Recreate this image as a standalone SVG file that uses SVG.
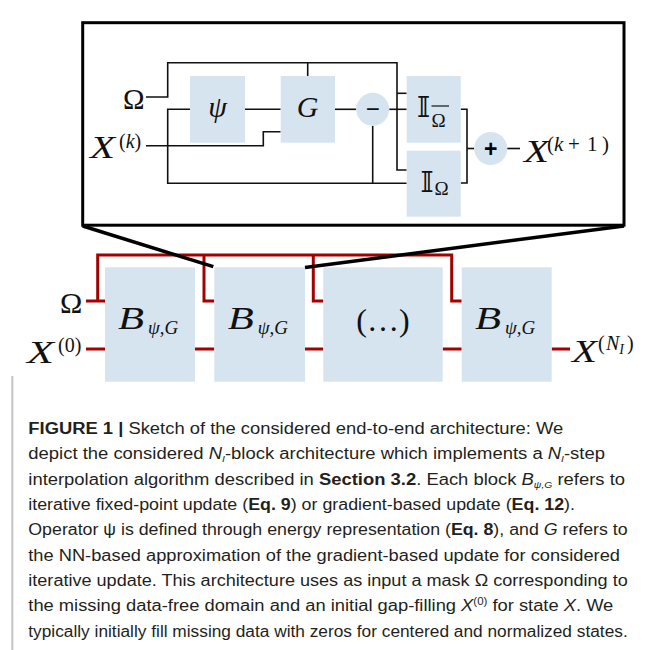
<svg xmlns="http://www.w3.org/2000/svg" width="664" height="650" viewBox="0 0 664 650">
<style>
.blk{fill:#d6e4f0;}
.wire{fill:none;stroke:#111;stroke-width:1.6;}
.red{fill:none;stroke:#a30000;stroke-width:3;}
.m{font-family:"Liberation Serif","Times New Roman",serif;fill:#111;}
.i{font-style:italic;}
.ds{font-family:"DejaVu Serif","DejaVu Sans",serif;fill:#111;}
.cap{font-family:"Liberation Sans",Arial,sans-serif;font-size:16px;fill:#231f20;}
.b{font-weight:bold;}
</style>
<rect width="664" height="650" fill="#fff"/>

<g id="inset-frame">
<rect x="82.7" y="22.7" width="541.3" height="202.5" fill="none" stroke="#000" stroke-width="3"/>
</g>

<g id="inset-connectors" class="wire">
<path d="M146,97 H167.7 V62.7 H397 V170 H406.7"/>
<path d="M397,93.3 H406.7"/>
<path d="M307.7,62.7 V76"/>
<path d="M146,145.7 H263.3 V131.7 H280.7"/>
<path d="M190,109.3 H167.7 V183.3 H406.7"/>
<path d="M245,109.3 H280.7"/>
<path d="M335,109.3 H356.2"/>
<path d="M389.2,109.3 H406.7"/>
<path d="M372.7,125.8 V183.3"/>
<path d="M460.7,109.3 H467 V183 H460.7"/>
<path d="M467,148.5 H474.2"/>
<path d="M507.2,148.5 H520"/>
</g>

<g id="in-omega"><text class="m" x="123" y="109" font-size="29">Ω</text></g>
<g id="in-xk"><text class="m i" x="90" y="158" font-size="31" textLength="25" lengthAdjust="spacingAndGlyphs">X</text><text class="m" y="148" font-size="20"><tspan x="119">(</tspan><tspan class="i">k</tspan><tspan>)</tspan></text></g>
<g id="psi"><rect class="blk" x="190" y="76" width="55" height="66.7"/><text class="m i" x="217.5" y="117" font-size="30" text-anchor="middle">ψ</text></g>
<g id="G"><rect class="blk" x="280.7" y="76" width="54.3" height="66.7"/><text class="m i" x="307.7" y="117.3" font-size="30" text-anchor="middle">G</text></g>
<g id="minus"><circle class="blk" cx="372.7" cy="109.3" r="16.5"/><text x="372.7" y="117.2" font-family="Liberation Sans,Arial,sans-serif" font-size="24" text-anchor="middle" fill="#111">−</text></g>
<g id="I-omega-bar"><rect class="blk" x="406.7" y="76" width="54" height="66.7"/><text class="ds" x="417" y="116.7" font-size="28">𝕀</text><text class="m" x="431.5" y="126.7" font-size="19">Ω</text><line x1="431.5" y1="106" x2="449" y2="106" stroke="#111" stroke-width="1.2"/></g>
<g id="I-omega"><rect class="blk" x="406.7" y="150.7" width="54" height="66"/><text class="ds" x="420.5" y="191.7" font-size="28">𝕀</text><text class="m" x="434.5" y="195" font-size="19">Ω</text></g>
<g id="plus"><circle class="blk" cx="490.7" cy="148.5" r="16.5"/><text x="490.7" y="156.5" font-family="Liberation Sans,Arial,sans-serif" font-weight="bold" font-size="23" text-anchor="middle" fill="#000">+</text></g>
<g id="in-xk1"><text class="m i" x="524" y="161.7" font-size="31" textLength="25" lengthAdjust="spacingAndGlyphs">X</text><text class="m" y="150.5" font-size="21"><tspan x="547">(</tspan><tspan x="554" class="i">k</tspan><tspan x="568">+</tspan><tspan x="587">1</tspan><tspan x="602">)</tspan></text></g>

<g id="chain-connectors">
<path class="red" d="M97.7,301 V255 H451.7 V301 H461.7"/>
<path class="red" d="M204,255 V301 H214.3"/>
<path class="red" d="M313.3,255 V301 H323.3"/>
<path class="red" d="M86,301 H105"/>
<path class="red" d="M86,349 H105 M195,349 H214.3 M305,349 H323.3 M442.7,349 H461.7 M551.7,349 H570"/>
</g>

<g id="block1"><rect class="blk" x="105" y="267.3" width="90" height="114.4"/><text class="m i" x="118" y="329.3" font-size="31" textLength="26" lengthAdjust="spacingAndGlyphs">B</text><text class="m" y="333.5" font-size="19"><tspan x="148" class="i">ψ</tspan><tspan>,</tspan><tspan class="i">G</tspan></text></g>
<g id="block2"><rect class="blk" x="214.3" y="267.3" width="90.7" height="114.4"/><text class="m i" x="227.8" y="329.3" font-size="31" textLength="26" lengthAdjust="spacingAndGlyphs">B</text><text class="m" y="333.5" font-size="19"><tspan x="257.8" class="i">ψ</tspan><tspan>,</tspan><tspan class="i">G</tspan></text></g>
<g id="block3"><rect class="blk" x="323.3" y="267.3" width="119.4" height="114.4"/><text class="m" x="383" y="331" font-size="32" text-anchor="middle">(…)</text></g>
<g id="block4"><rect class="blk" x="461.7" y="267.3" width="90" height="114.4"/><text class="m i" x="475" y="329.3" font-size="31" textLength="26" lengthAdjust="spacingAndGlyphs">B</text><text class="m" y="333.5" font-size="19"><tspan x="505" class="i">ψ</tspan><tspan>,</tspan><tspan class="i">G</tspan></text></g>

<g id="out-omega"><text class="m" x="60" y="312.7" font-size="30">Ω</text></g>
<g id="out-x0"><text class="m i" x="27" y="363.3" font-size="32" textLength="27" lengthAdjust="spacingAndGlyphs">X</text><text class="m" x="58" y="351.5" font-size="20">(0)</text></g>
<g id="out-xn"><text class="m i" x="572" y="361.5" font-size="32" textLength="25" lengthAdjust="spacingAndGlyphs">X</text><text class="m" y="349.5" font-size="20"><tspan x="598">(</tspan><tspan x="606" class="i">N</tspan><tspan class="i" font-size="14" dy="4">I</tspan><tspan dy="-4" dx="3">)</tspan></text></g>

<g id="zoom-lines" stroke="#000" stroke-width="3.5" fill="none">
<path d="M82.7,226 L213.3,266.7"/>
<path d="M624,226 L305,267.5"/>
</g>

<g id="caption">
<line x1="12.3" y1="376" x2="12.3" y2="650" stroke="#c4c4c4" stroke-width="2"/>
<text class="cap" x="28.3" y="434" textLength="535" lengthAdjust="spacingAndGlyphs"><tspan class="b">FIGURE 1 |</tspan> Sketch of the considered end-to-end architecture: We</text>
<text class="cap" x="28.3" y="459.3" textLength="576.7" lengthAdjust="spacingAndGlyphs">depict the considered <tspan font-style="italic">N</tspan><tspan font-size="9" dy="3" font-style="italic">I</tspan><tspan dy="-3">-block architecture which implements a </tspan><tspan font-style="italic">N</tspan><tspan font-size="9" dy="3" font-style="italic">I</tspan><tspan dy="-3">-step</tspan></text>
<text class="cap" x="28.3" y="484.7" textLength="596.7" lengthAdjust="spacingAndGlyphs">interpolation algorithm described in <tspan class="b">Section 3.2</tspan>. Each block <tspan font-style="italic">B</tspan><tspan font-size="9" dy="3" font-style="italic">ψ,G</tspan><tspan dy="-3"> refers to</tspan></text>
<text class="cap" x="28.3" y="510" textLength="546.7" lengthAdjust="spacingAndGlyphs">iterative fixed-point update (<tspan class="b">Eq. 9</tspan>) or gradient-based update (<tspan class="b">Eq. 12</tspan>).</text>
<text class="cap" x="28.3" y="535.4" textLength="599.4" lengthAdjust="spacingAndGlyphs">Operator ψ is defined through energy representation (<tspan class="b">Eq. 8</tspan>), and <tspan font-style="italic">G</tspan> refers to</text>
<text class="cap" x="28.3" y="560.7" textLength="591.7" lengthAdjust="spacingAndGlyphs">the NN-based approximation of the gradient-based update for considered</text>
<text class="cap" x="28.3" y="586" textLength="599.4" lengthAdjust="spacingAndGlyphs">iterative update. This architecture uses as input a mask Ω corresponding to</text>
<text class="cap" x="28.3" y="611.4" textLength="585" lengthAdjust="spacingAndGlyphs">the missing data-free domain and an initial gap-filling <tspan font-style="italic">X</tspan><tspan font-size="10" dy="-6">(0)</tspan><tspan dy="6"> for state </tspan><tspan font-style="italic">X</tspan>. We</text>
<text class="cap" x="28.3" y="636.7" textLength="599.4" lengthAdjust="spacingAndGlyphs">typically initially fill missing data with zeros for centered and normalized states.</text>
</g>
</svg>
